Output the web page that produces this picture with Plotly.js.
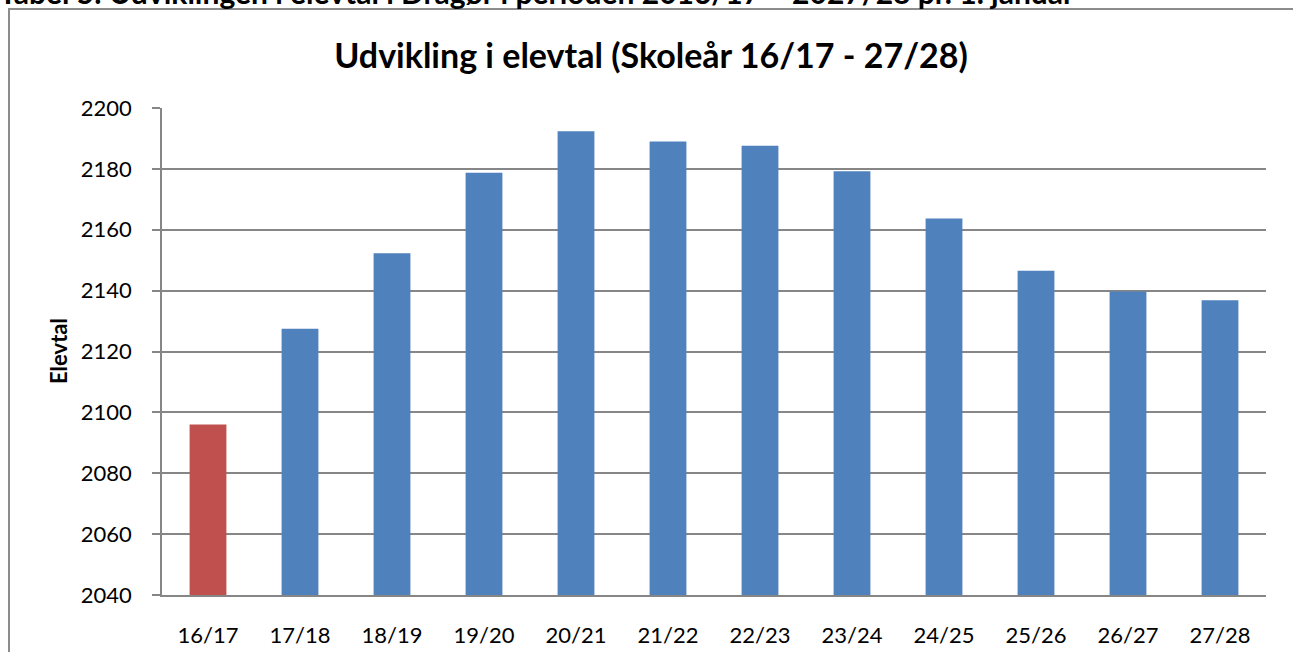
<!DOCTYPE html>
<html>
<head>
<meta charset="utf-8">
<script src="https://cdn.plot.ly/plotly-3.0.1.min.js"></script>
<style>
html,body{margin:0;padding:0;background:#fff;}
#chart{width:1293px;height:652px;}
</style>
</head>
<body>
<div id="chart"></div>
<script>
const categories = ["16/17","17/18","18/19","19/20","20/21","21/22","22/23","23/24","24/25","25/26","26/27","27/28"];
const elevtal = [2096, 2127.5, 2152.3, 2178.7, 2192.4, 2189, 2187.6, 2179.2, 2163.7, 2146.5, 2139.7, 2136.8];
const barColors = ["#C0504D","#4F81BD","#4F81BD","#4F81BD","#4F81BD","#4F81BD","#4F81BD","#4F81BD","#4F81BD","#4F81BD","#4F81BD","#4F81BD"];
const yTicks = [2040, 2060, 2080, 2100, 2120, 2140, 2160, 2180, 2200];
const chartTitle = "Udvikling i elevtal (Skoleår 16/17 - 27/28)";
const yTitle = "Elevtal";
const captionText = "Tabel 5: Udviklingen i elevtal i Dragør i perioden 2016/17 – 2027/28 pr. 1. januar";

const W = 1293, H = 652;
const L = 162, R = 1266, T = 108, B = 595;
const pw = R - L, ph = B - T;
const px = x => (x - L) / pw;
const py = y => (B - y) / ph;

const font = "Lato, 'Open Sans', sans-serif";

Plotly.newPlot("chart", [{
  type: "bar",
  x: categories,
  y: elevtal,
  base: 0,
  marker: {color: barColors, line: {width: 0}},
  hoverinfo: "x+y"
}], {
  width: W, height: H,
  margin: {l: L, r: W - R, t: T, b: H - B, pad: 0},
  paper_bgcolor: "#fff", plot_bgcolor: "#fff",
  bargap: 0.6,
  showlegend: false,
  font: {family: font, color: "#000"},
  title: {
    text: "<b>" + chartTitle + "</b>",
    font: {family: font, size: 34, color: "#000"},
    x: 651 / W, xref: "container", xanchor: "center",
    y: 1 - 56 / H, yref: "container", yanchor: "middle"
  },
  xaxis: {
    type: "category",
    showgrid: false,
    showline: true, linecolor: "#868686", linewidth: 1.5,
    ticks: "", ticklabelstandoff: 20,
    tickfont: {family: font, size: 22, color: "#000"},
    zeroline: false, fixedrange: true
  },
  yaxis: {
    range: [2040, 2200],
    tickvals: yTicks,
    showgrid: true, gridcolor: "#868686", gridwidth: 1.5,
    showline: true, linecolor: "#868686", linewidth: 1.5,
    ticks: "outside", ticklen: 8, tickcolor: "#868686", tickwidth: 1.5,
    ticklabelstandoff: 16,
    tickfont: {family: font, size: 22, color: "#000"},
    zeroline: false, fixedrange: true
  },
  shapes: [
    {type: "path", xref: "paper", yref: "paper",
     path: "M " + px(9) + "," + py(H + 20) + " L " + px(9) + "," + py(9) + " L " + px(W + 20) + "," + py(9),
     line: {color: "#8c8c8c", width: 2}, layer: "below"}
  ],
  annotations: [
    {text: "<b>" + yTitle + "</b>", textangle: -90, showarrow: false,
     xref: "paper", yref: "paper", x: px(58), y: py(351),
     xanchor: "center", yanchor: "middle",
     font: {family: font, size: 22, color: "#000"}},
    {text: "<b>" + captionText + "</b>", showarrow: false,
     xref: "paper", yref: "paper", x: px(-3), y: py(12),
     xanchor: "left", yanchor: "bottom",
     font: {family: font, size: 30, color: "#000"}}
  ]
}, {displayModeBar: false, staticPlot: false});
</script>
</body>
</html>
